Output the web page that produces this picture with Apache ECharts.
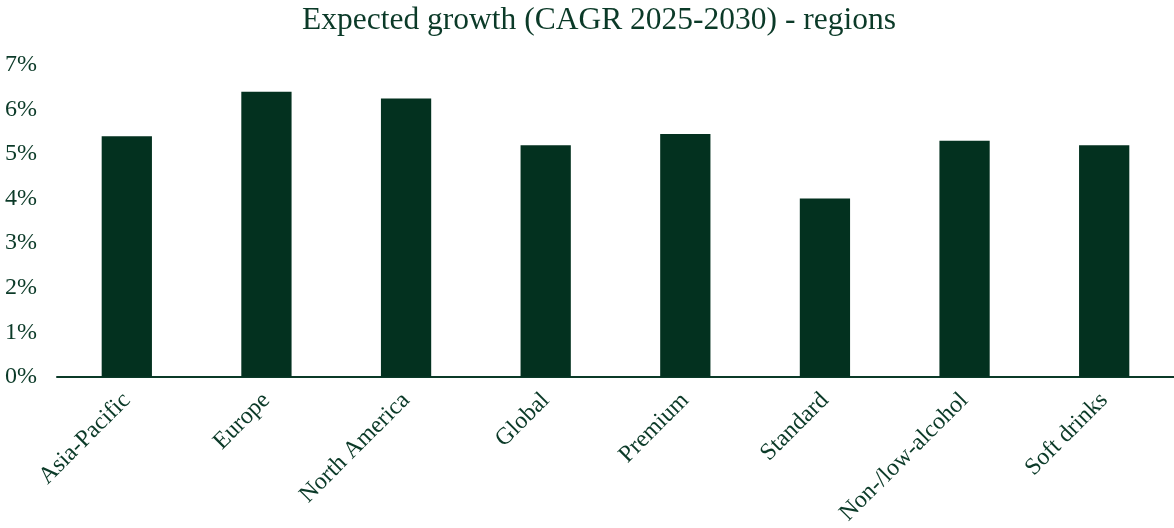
<!DOCTYPE html>
<html>
<head>
<meta charset="utf-8">
<script src="https://cdn.jsdelivr.net/npm/echarts@6/dist/echarts.min.js"></script>
<style>
  html, body { margin: 0; padding: 0; background: #ffffff; }
  #chart { width: 1174px; height: 528px; }
</style>
</head>
<body>
<div id="chart"></div>
<script>
// Expected CAGR 2025-2030, in percent
const categories = ['Asia-Pacific', 'Europe', 'North America', 'Global', 'Premium', 'Standard', 'Non-/low-alcohol', 'Soft drinks'];
const growth = [5.4, 6.4, 6.25, 5.2, 5.45, 4.0, 5.3, 5.2];

const titleText = 'Expected growth (CAGR 2025-2030) - regions';
const serif = '"Liberation Serif", "Times New Roman", serif';
const ink = '#0b3a28';
const barColor = '#03311f';

const chart = echarts.init(document.getElementById('chart'), null, { renderer: 'canvas' });
chart.setOption({
  animation: false,
  title: {
    text: titleText,
    left: 297,
    top: 0,
    textStyle: { fontFamily: serif, fontSize: 31.5, fontWeight: 'normal', color: ink }
  },
  grid: { left: 57, right: 0, top: 65, bottom: 150, containLabel: false },
  xAxis: {
    type: 'category',
    data: categories,
    axisLine: { lineStyle: { color: ink, width: 2 } },
    axisTick: { show: false },
    axisLabel: {
      rotate: 45,
      margin: 20,
      interval: 0,
      fontFamily: serif,
      fontSize: 24,
      color: ink
    }
  },
  yAxis: {
    type: 'value',
    min: 0,
    max: 7,
    interval: 1,
    splitLine: { show: false },
    axisLine: { show: false },
    axisTick: { show: false },
    axisLabel: {
      formatter: '{value}%',
      margin: 20,
      padding: [0, 0, 6, 0],
      fontFamily: serif,
      fontSize: 24,
      color: ink
    }
  },
  series: [{
    type: 'bar',
    data: growth,
    barWidth: '36%',
    itemStyle: { color: barColor }
  }]
});
</script>
</body>
</html>
